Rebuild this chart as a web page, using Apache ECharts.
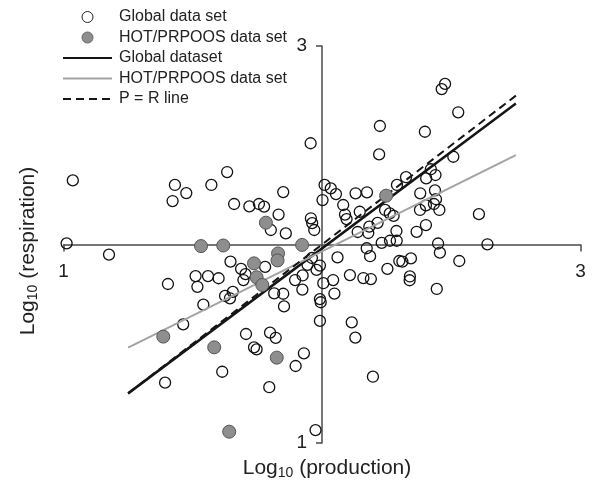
<!DOCTYPE html>
<html><head><meta charset="utf-8">
<script src="https://cdn.jsdelivr.net/npm/echarts@6/dist/echarts.min.js"></script>
<style>html,body{margin:0;padding:0;background:#fff}#c{width:592px;height:483px}</style>
</head><body><div id="c"></div>
<script>
// Global data set (open circles)
const globalX = [1.036,1.012,1.176,1.431,1.475,1.422,1.572,1.633,1.660,1.719,1.756,1.776,1.850,1.832,1.802,1.860,1.956,2.010,2.034,2.054,2.002,1.957,1.962,1.970,
1.646,1.687,1.704,1.511,1.559,1.600,1.404,1.518,1.696,1.780,1.896,1.925,1.924,1.979,1.992,1.961,1.944,2.043,2.005,2.048,1.992,1.995,1.815,1.850,1.625,1.644,1.655,1.541,1.853,1.463,1.706,1.799,1.821,1.737,1.747,1.930,1.898,1.614,1.393,1.796,1.975,1.992,
2.060,2.108,2.115,2.129,2.197,2.160,2.189,2.173,2.186,2.231,2.263,2.289,2.253,2.299,2.311,2.344,2.340,2.339,2.444,2.449,2.456,2.531,2.640,2.607,
2.476,2.463,2.527,2.224,2.398,2.221,2.508,2.130,2.174,2.082,2.089,2.095,2.146,2.244,2.262,2.277,2.215,2.183,2.138,2.179,2.288,2.366,2.402,2.290,2.325,2.403,2.421,2.439,2.437,2.380,2.441,2.433,2.402,2.454,2.379];
const globalY = [2.323,2.006,1.949,2.300,2.259,2.219,2.300,2.365,2.204,2.192,2.204,2.191,2.264,2.151,2.073,2.056,2.510,2.300,2.283,2.254,2.224,2.132,2.108,2.073,
1.914,1.877,1.851,1.841,1.841,1.830,1.801,1.787,1.821,1.887,1.821,1.844,1.773,1.872,1.894,1.932,1.897,1.821,1.805,1.753,1.725,1.709,1.754,1.752,1.741,1.729,1.761,1.697,1.688,1.598,1.549,1.556,1.530,1.482,1.472,1.452,1.388,1.359,1.304,1.281,1.065,1.615,
1.935,1.846,1.608,1.531,1.334,1.831,1.826,1.981,1.941,2.008,2.019,2.019,1.877,1.917,1.914,1.930,1.839,1.820,1.776,2.005,1.959,1.917,2.001,2.153,
2.809,2.783,2.666,2.597,2.568,2.454,2.442,2.258,2.263,2.199,2.151,2.128,2.165,2.174,2.157,2.144,2.109,2.090,2.063,2.058,2.068,2.064,2.098,2.300,2.339,2.333,2.379,2.350,2.273,2.258,2.228,2.204,2.197,2.174,2.174];
// HOT/PRPOOS data set (grey filled circles)
const hotX = [1.386,1.532,1.618,1.783,1.923,1.737,1.830,1.828,1.747,1.769,1.583,1.825,1.641,2.248];
const hotY = [1.536,1.992,1.995,2.110,1.998,1.905,1.955,1.920,1.835,1.796,1.482,1.430,1.057,2.246];
// Regression lines (end points)
const fitX = [1.25, 2.75];
const globalFitY = [1.25, 2.71];
const hotFitY = [1.48, 2.45];
const prY = [1.25, 2.75];
// Axis ticks
const axisMin = 1, axisMax = 3, axisStep = 2;
const legendLabels = {
  'Global data set': 'Global data set',
  'HOT/PRPOOS data set': 'HOT/PRPOOS data set',
  'Global dataset': 'Global dataset',
  'HOT/PRPOOS fit': 'HOT/PRPOOS data set',
  'P = R line': 'P = R line'
};

const zip = (xs, ys) => xs.map((x, i) => [x, ys[i]]);
const font = '"Liberation Sans", Arial, Helvetica, sans-serif';
const axisCol = '#4a4a4a';
const txtCol = '#222';
const noSym = {opacity: 0, color: 'rgba(0,0,0,0)', borderWidth: 0};

const chart = echarts.init(document.getElementById('c'), null, {renderer: 'canvas'});
const titleRich = {
  a: {fontSize: 21, fontFamily: font, fill: txtCol, color: txtCol},
  s: {fontSize: 14, fontFamily: font, fill: txtCol, color: txtCol, padding: [10, 0, 0, 0]}
};
chart.setOption({
  animation: false,
  backgroundColor: '#fff',
  textStyle: {fontFamily: font},
  grid: {left: 63.5, right: 11.5, top: 46, bottom: 40},
  xAxis: {
    type: 'value', min: axisMin, max: axisMax, interval: axisStep,
    position: 'bottom', offset: -198.5,
    axisLine: {onZero: false, lineStyle: {color: axisCol, width: 1.5}},
    axisTick: {length: 7, lineStyle: {color: axisCol, width: 1.5}},
    axisLabel: {fontSize: 19, color: txtCol, margin: 18, fontFamily: font},
    splitLine: {show: false}
  },
  yAxis: {
    type: 'value', min: axisMin, max: axisMax, interval: axisStep,
    position: 'left', offset: -258.5,
    axisLine: {onZero: false, show: true, lineStyle: {color: axisCol, width: 1.5}},
    axisTick: {show: true, length: 6, lineStyle: {color: axisCol, width: 1.5}},
    axisLabel: {fontSize: 19, color: txtCol, margin: 15, fontFamily: font},
    splitLine: {show: false}
  },
  legend: {
    left: 57, top: 4, orient: 'vertical',
    itemWidth: 49, itemHeight: 11, itemGap: 4.5,
    data: [
      {name: 'Global data set', itemStyle: {borderWidth: 1, borderColor: '#222', color: '#fff'}},
      {name: 'HOT/PRPOOS data set', itemStyle: {borderWidth: 1, borderColor: '#666', color: '#8e8e8e'}},
      {name: 'Global dataset', itemStyle: noSym},
      {name: 'HOT/PRPOOS fit', itemStyle: noSym},
      {name: 'P = R line', itemStyle: noSym}
    ],
    formatter: n => legendLabels[n],
    textStyle: {fontSize: 16, color: txtCol, fontFamily: font, padding: [0, 0, 0, 2]}
  },
  graphic: [
    {type: 'text', x: 327, y: 468, style: {text: '{a|Log}{s|10}{a| (production)}', rich: titleRich, align: 'center', verticalAlign: 'middle'}},
    {type: 'text', x: 28, y: 251, rotation: Math.PI / 2, style: {text: '{a|Log}{s|10}{a| (respiration)}', rich: titleRich, align: 'center', verticalAlign: 'middle'}}
  ],
  series: [
    {
      name: 'Global data set', type: 'scatter', symbol: 'circle', symbolSize: 11,
      data: zip(globalX, globalY),
      itemStyle: {color: 'rgba(255,255,255,0)', borderColor: '#111', borderWidth: 1.3, opacity: 1},
      z: 2
    },
    {
      name: 'Global dataset', type: 'line', symbol: 'none', data: zip(fitX, globalFitY),
      lineStyle: {color: '#151515', width: 2.5}, itemStyle: {color: '#151515'}, z: 3
    },
    {
      name: 'HOT/PRPOOS fit', type: 'line', symbol: 'none', data: zip(fitX, hotFitY),
      lineStyle: {color: '#a3a3a3', width: 2}, itemStyle: {color: '#a3a3a3'}, z: 3
    },
    {
      name: 'P = R line', type: 'line', symbol: 'none', data: zip(fitX, prY),
      lineStyle: {color: '#151515', width: 2, type: [8, 5]}, itemStyle: {color: '#151515'}, z: 3
    },
    {
      name: 'HOT/PRPOOS data set', type: 'scatter', symbol: 'circle', symbolSize: 13,
      data: zip(hotX, hotY),
      itemStyle: {color: '#8e8e8e', borderColor: '#555', borderWidth: 1, opacity: 1},
      z: 4
    }
  ]
});
</script>
</body></html>
